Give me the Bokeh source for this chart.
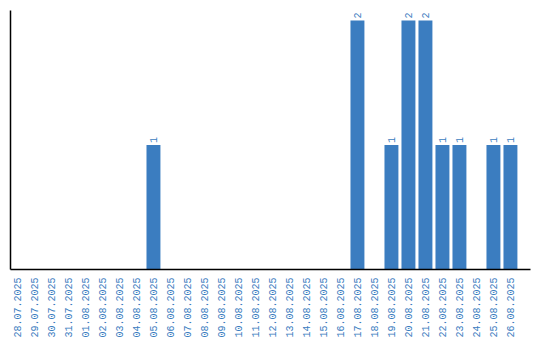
import math
from bokeh.plotting import figure
from bokeh.models import ColumnDataSource, Range1d, FixedTicker
from bokeh.core.properties import value
from bokeh.embed import file_html
from bokeh.resources import INLINE

dates = ["28.07.2025", "29.07.2025", "30.07.2025", "31.07.2025", "01.08.2025",
         "02.08.2025", "03.08.2025", "04.08.2025", "05.08.2025", "06.08.2025",
         "07.08.2025", "08.08.2025", "09.08.2025", "10.08.2025", "11.08.2025",
         "12.08.2025", "13.08.2025", "14.08.2025", "15.08.2025", "16.08.2025",
         "17.08.2025", "18.08.2025", "19.08.2025", "20.08.2025", "21.08.2025",
         "22.08.2025", "23.08.2025", "24.08.2025", "25.08.2025", "26.08.2025"]
counts = [0, 0, 0, 0, 0, 0, 0, 0, 1, 0,
          0, 0, 0, 0, 0, 0, 0, 0, 0, 0,
          2, 0, 1, 2, 2, 1, 1, 0, 1, 1]

BLUE = "#3b7dc0"
idx = list(range(len(dates)))

p = figure(width=540, height=340, output_backend="svg", toolbar_location=None,
           x_range=Range1d(-0.41, 30.18), y_range=Range1d(0, 2.08),
           min_border_left=10, min_border_right=10, min_border_top=10, min_border_bottom=0)

src = ColumnDataSource(dict(x=[i for i, c in zip(idx, counts) if c > 0],
                            top=[c for c in counts if c > 0],
                            label=[str(c) for c in counts if c > 0]))
p.vbar(x="x", top="top", width=0.82, source=src, fill_color=BLUE, line_color=None)
p.text(x="x", y="top", text="label", source=src, angle=math.pi / 2,
       text_align="left", text_baseline="middle", y_offset=-2,
       text_color=BLUE, text_font=value("Liberation Mono"), text_font_size="10px")

p.xgrid.visible = False
p.ygrid.visible = False
p.outline_line_color = None

xa = p.xaxis[0]
xa.ticker = FixedTicker(ticks=idx)
xa.major_label_overrides = {i: d for i, d in zip(idx, dates)}
xa.major_label_orientation = math.pi / 2
xa.major_tick_line_color = None
xa.minor_tick_line_color = None
xa.major_tick_out = 0
xa.major_tick_in = 0
xa.minor_tick_out = 0
xa.major_label_standoff = 8
xa.major_label_text_color = BLUE
xa.major_label_text_font = "Liberation Mono"
xa.major_label_text_font_size = "10px"
xa.axis_line_color = "black"
xa.axis_line_width = 1.5

ya = p.yaxis[0]
ya.ticker = FixedTicker(ticks=[])
ya.major_tick_line_color = None
ya.minor_tick_line_color = None
ya.major_tick_out = 0
ya.major_tick_in = 0
ya.minor_tick_out = 0
ya.major_label_standoff = 0
ya.axis_line_color = "black"
ya.axis_line_width = 1.5

open("out.html", "w").write(file_html(p, INLINE))
